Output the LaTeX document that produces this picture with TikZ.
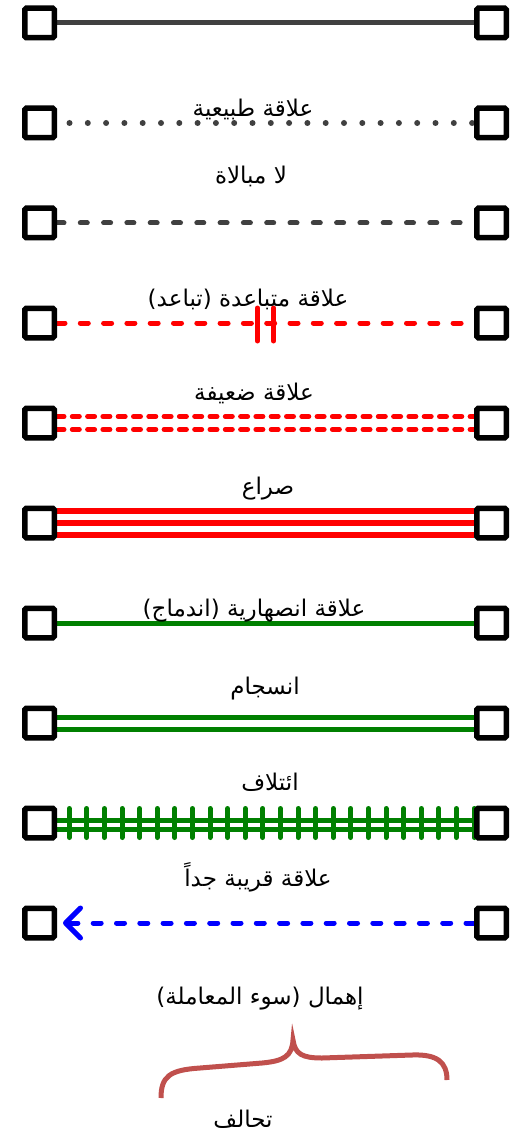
\documentclass[tikz,border=0pt]{standalone}
\usepackage{fontspec}
\usepackage{xcolor}
\usepackage{tikz}
\usetikzlibrary{arrows.meta,calc,backgrounds}
\TeXXeTstate=1
\newfontfamily\arabicfont[Script=Arabic]{DejaVu Sans}
\definecolor{inkgrey}{HTML}{404040}
\definecolor{relred}{HTML}{FF0000}
\definecolor{relgreen}{HTML}{008000}
\definecolor{relblue}{HTML}{0000FF}
\definecolor{bracered}{HTML}{C0504D}
\tikzset{
  % ---- people -----------------------------------------------------------
  person/.style={
    draw=black, line width=5.5pt, fill=white, rounded corners=1.5pt,
    minimum size=29.5pt, inner sep=0pt},
  reltext/.style={font=\arabicfont\fontsize{23}{27}\selectfont, inner sep=1pt},
  % ---- relation lines ---------------------------------------------------
  lbase/.style={line width=5pt, line cap=round},
  lnormal/.style={lbase, draw=inkgrey, line cap=butt},
  ldots/.style={lbase, line width=6pt, draw=inkgrey,
    dash pattern=on 0pt off 18.3pt, dash phase=5.8pt},
  lapathy/.style={lbase, draw=inkgrey, dash pattern=on 7pt off 16.3pt},
  ldistant/.style={lbase, draw=relred, dash pattern=on 8pt off 15.3pt},
  lcut/.style={lbase, draw=relred},
  lweak/.style={lbase, draw=relred, dash pattern=on 7pt off 8.3pt},
  lconflict/.style={line width=6pt, draw=relred},
  lfused/.style={line width=5pt, draw=relgreen},
  lalliance/.style={lbase, draw=relgreen},
  lclose/.style={lbase, draw=relblue, dash pattern=on 8pt off 15.3pt,
    shorten >=6pt,
    -{Straight Barb[length=15pt, width=30pt, round]}},
  lbrace/.style={line width=5pt, draw=bracered, line cap=butt},
}

\begin{document}
\begin{tikzpicture}[x=1pt, y=-1pt]
\useasboundingbox (0,0) rectangle (531,1139);

% ---------------- people, left and right -------------------------------
\foreach \i in {1,...,10}{
  \node[person] (l\i) at (39.5, {100*\i-77}) {};
  \node[person] (r\i) at (491.5, {100*\i-77}) {};
}

% ---------------- relation lines ---------------------------------------
\begin{scope}[on background layer]
\draw[lnormal] (l1.east) -- (r1.west);
\draw[ldots] (l2.east) -- (r2.west);
\draw[lapathy] (l3.east) -- (r3.west);

\draw[ldistant] (l4.east) -- (r4.west);
\foreach \dx in {-8,8}{
  \draw[lcut] ($(l4)!0.5!(r4)+(\dx,-15)$) -- ++(0,33);
}

\foreach \dy in {-6.5,6.5}{
  \draw[lweak] ([yshift=\dy pt]l5.east) -- ([yshift=\dy pt]r5.west);
}

\foreach \dy in {-12,0,12}{
  \draw[lconflict] ([yshift=\dy pt]l6.east) -- ([yshift=\dy pt]r6.west);
}

\draw[lfused] (l7.east) -- (r7.west);

\foreach \dy in {-6,6}{
  \draw[lfused] ([yshift=\dy pt]l8.east) -- ([yshift=\dy pt]r8.west);
}

\foreach \dy in {-6,3}{
  \draw[lfused] ([yshift=\dy pt]l9.east) -- ([yshift=\dy pt]r9.west);
}
\foreach \k in {0,...,23}{
  \draw[lalliance] ($(l9.east)+({12.2+17.6*\k},-14.5)$) -- ++(0,29);
}

\draw[lclose] (r10.west) -- (l10.east);
\end{scope}

% ---------------- labels -----------------------------------------------
\node[reltext] (t2) at (253,109) {\beginR علاقة طبيعية\endR};
\node[reltext] (t3) at (251,176) {\beginR لا مبالاة\endR};
\node[reltext] (t4) at (248,299) {\beginR علاقة متباعدة (تباعد)\endR};
\node[reltext] (t5) at (254,393) {\beginR علاقة ضعيفة\endR};
\node[reltext] (t6) at (268,489) {\beginR صراع\endR};
\node[reltext] (t7) at (254,611) {\beginR علاقة انصهارية (اندماج)\endR};
\node[reltext] (t8) at (265,689) {\beginR انسجام\endR};
\node[reltext] (t9) at (270,782) {\beginR ائتلاف\endR};
\node[reltext] (t10) at (258,877) {\beginR علاقة قريبة جداً\endR};
\node[reltext] (t11) at (260,999) {\beginR إهمال (سوء المعاملة)\endR};

% ---------------- brace ------------------------------------------------
\draw[lbrace] (161,1098) .. controls (161,1076) and (170,1070) .. (200,1068)
  -- (262,1063) .. controls (284,1061) and (292,1056) .. (293,1040)
  .. controls (295,1054) and (302,1058) .. (322,1058)
  -- (412,1055) .. controls (437,1054) and (447,1062) .. (447,1080);
\node[reltext] (t12) at (243,1119) {\beginR تحالف\endR};

\end{tikzpicture}
\end{document}
